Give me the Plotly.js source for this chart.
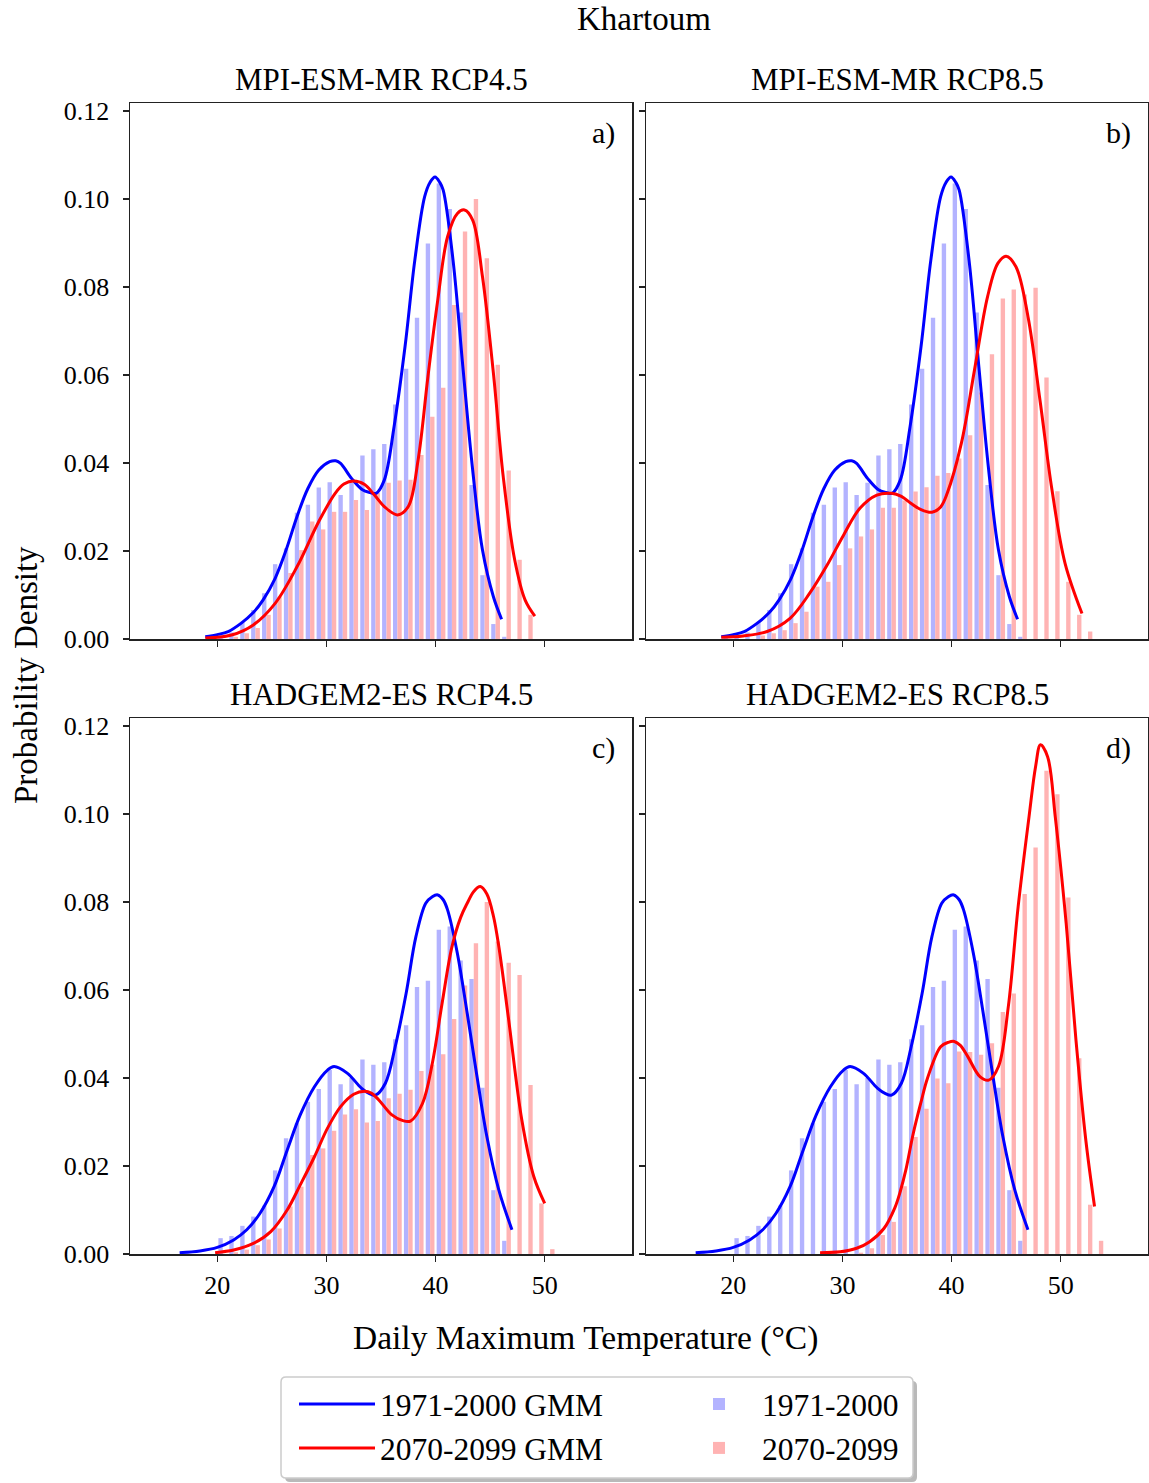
<!DOCTYPE html>
<html>
<head>
<meta charset="utf-8">
<script src="https://cdn.plot.ly/plotly-3.0.1.min.js"></script>
<style>
html,body{margin:0;padding:0;background:#ffffff;}
#chart{width:1149px;height:1483px;}
</style>
</head>
<body>
<div id="chart"></div>
<script>
// ---------------- DATA ----------------
// Histogram bin centres (1 degC bins) and densities
const mpiHistCenters = [19.5,20.5,21.5,22.5,23.5,24.5,25.5,26.5,27.5,28.5,29.5,30.5,31.5,32.5,33.5,34.5,35.5,36.5,37.5,38.5,39.5,40.5,41.5,42.5,43.5,44.5,45.5,46.5];
const mpiHistDensity = [0.0006,0.0009,0.0015,0.0039,0.0066,0.0104,0.0170,0.0206,0.0287,0.0305,0.0344,0.0356,0.0327,0.0355,0.0417,0.0431,0.0443,0.0533,0.0614,0.0730,0.0899,0.1035,0.0977,0.0742,0.0350,0.0145,0.0034,0.0005];

const mpi45Centers = [21.5,22.5,23.5,24.5,25.5,26.5,27.5,28.5,29.5,30.5,31.5,32.5,33.5,34.5,35.5,36.5,37.5,38.5,39.5,40.5,41.5,42.5,43.5,44.5,45.5,46.5,47.5,48.5];
const mpi45Density = [0.0005,0.0013,0.0025,0.0055,0.0096,0.0150,0.0202,0.0267,0.0249,0.0289,0.0289,0.0316,0.0293,0.0332,0.0355,0.0360,0.0362,0.0418,0.0505,0.0571,0.0759,0.0926,0.1000,0.0865,0.0623,0.0383,0.0180,0.0055];

const mpi85Centers = [22.5,23.5,24.5,25.5,26.5,27.5,28.5,29.5,30.5,31.5,32.5,33.5,34.5,35.5,36.5,37.5,38.5,39.5,40.5,41.5,42.5,43.5,44.5,45.5,46.5,47.5,48.5,49.5,50.5,51.5,52.5];
const mpi85Density = [0.0008,0.0013,0.0020,0.0036,0.0062,0.0119,0.0130,0.0168,0.0206,0.0233,0.0249,0.0298,0.0298,0.0315,0.0335,0.0345,0.0371,0.0377,0.0410,0.0463,0.0560,0.0647,0.0774,0.0794,0.0783,0.0798,0.0594,0.0336,0.0130,0.0055,0.0017];

const hadHistCenters = [20.5,21.5,22.5,23.5,24.5,25.5,26.5,27.5,28.5,29.5,30.5,31.5,32.5,33.5,34.5,35.5,36.5,37.5,38.5,39.5,40.5,41.5,42.5,43.5,44.5,45.5,46.5];
const hadHistDensity = [0.0036,0.0041,0.0064,0.0085,0.0110,0.0190,0.0263,0.0297,0.0346,0.0375,0.0418,0.0386,0.0400,0.0442,0.0430,0.0436,0.0488,0.0520,0.0607,0.0621,0.0737,0.0744,0.0667,0.0625,0.0378,0.0145,0.0030];

const had45Centers = [21.5,22.5,23.5,24.5,25.5,26.5,27.5,28.5,29.5,30.5,31.5,32.5,33.5,34.5,35.5,36.5,37.5,38.5,39.5,40.5,41.5,42.5,43.5,44.5,45.5,46.5,47.5,48.5,49.5,50.5];
const had45Density = [0.0004,0.0010,0.0020,0.0033,0.0058,0.0108,0.0153,0.0225,0.0240,0.0280,0.0317,0.0329,0.0299,0.0302,0.0354,0.0364,0.0373,0.0416,0.0430,0.0454,0.0534,0.0610,0.0706,0.0800,0.0710,0.0662,0.0634,0.0384,0.0115,0.0011];

const had85Centers = [31.5,32.5,33.5,34.5,35.5,36.5,37.5,38.5,39.5,40.5,41.5,42.5,43.5,44.5,45.5,46.5,47.5,48.5,49.5,50.5,51.5,52.5,53.5];
const had85Density = [0.0003,0.0013,0.0043,0.0073,0.0154,0.0266,0.0330,0.0399,0.0388,0.0460,0.0459,0.0453,0.0479,0.0550,0.0592,0.0818,0.0924,0.1098,0.1045,0.0810,0.0445,0.0112,0.0030];

// GMM curves
const mpiHistGmmX = [18.9,20.0,21.0,22.2,23.3,24.2,25.3,26.3,27.3,28.3,29.3,30.3,30.85,31.3,32.3,33.3,34.0,34.55,35.3,36.2,37.2,38.1,39.0,39.5,39.95,40.4,40.7,41.6,42.5,43.4,44.3,45.3,46.05];
const mpiHistGmmY = [0.0005,0.0010,0.0017,0.0036,0.0060,0.0089,0.0138,0.0202,0.0278,0.0342,0.0384,0.0403,0.0405,0.0399,0.0365,0.0339,0.0333,0.0331,0.0361,0.0483,0.0664,0.0861,0.1005,0.1038,0.1050,0.1037,0.1020,0.0861,0.0619,0.0384,0.0202,0.0096,0.0045];

const mpi45GmmX = [18.9,21.3,23.3,25.3,27.3,29.3,30.8,31.6,32.5,33.5,34.4,35.3,36.5,37.5,38.4,39.3,40.2,41.1,42.0,42.65,43.4,44.3,45.3,46.2,47.25,48.2,49.1];
const mpi45GmmY = [0.0002,0.0009,0.0032,0.0081,0.0164,0.0267,0.0331,0.0352,0.0359,0.0351,0.0327,0.0301,0.0282,0.0301,0.0407,0.0596,0.0770,0.0914,0.0967,0.0975,0.0952,0.0823,0.0604,0.0369,0.0180,0.0089,0.0052];

const mpi85GmmX = [18.9,20.9,23.1,25.2,27.0,28.6,30.1,31.6,33.15,34.5,35.4,36.3,37.2,38.2,39.0,39.6,40.9,42.1,43.3,44.25,45.0,45.9,47.0,48.1,49.2,50.4,51.95];
const mpi85GmmY = [0.0004,0.0007,0.0017,0.0047,0.0104,0.0168,0.0236,0.0297,0.0327,0.0331,0.0324,0.0308,0.0294,0.0288,0.0300,0.0331,0.0445,0.0611,0.0778,0.0854,0.0870,0.0846,0.0733,0.0543,0.0339,0.0172,0.0058];

const hadHistGmmX = [16.55,18.4,20.0,21.5,22.7,23.9,25.2,26.4,27.6,28.9,30.1,30.7,31.9,33.2,33.9,34.5,35.4,36.3,37.3,38.2,39.1,39.7,40.2,40.7,41.1,42.0,42.9,43.8,44.7,45.8,47.0];
const hadHistGmmY = [0.0003,0.0007,0.0015,0.0032,0.0055,0.0092,0.0153,0.0236,0.0316,0.0380,0.0418,0.0426,0.0411,0.0377,0.0365,0.0361,0.0388,0.0471,0.0592,0.0721,0.0797,0.0812,0.0816,0.0805,0.0782,0.0683,0.0547,0.0403,0.0267,0.0145,0.0055];

const had45GmmX = [19.8,21.5,23.3,24.9,26.4,27.6,28.9,30.1,31.3,32.5,33.5,34.1,34.8,36.0,37.0,37.7,38.8,39.7,40.6,41.5,42.3,42.9,43.5,44.1,44.7,45.3,45.8,46.7,47.9,49.0,50.0];
const had45GmmY = [0.0003,0.0009,0.0024,0.0051,0.0100,0.0157,0.0221,0.0286,0.0335,0.0363,0.0370,0.0366,0.0350,0.0316,0.0303,0.0302,0.0342,0.0433,0.0570,0.0698,0.0765,0.0797,0.0824,0.0835,0.0818,0.0768,0.0698,0.0532,0.0305,0.0176,0.0115];

const had85GmmX = [27.95,29.8,31.3,32.5,33.8,34.8,35.3,35.8,36.5,37.2,37.8,39.0,39.7,40.25,40.8,41.5,42.6,43.4,44.3,45.2,46.1,47.1,47.7,48.15,48.8,49.5,50.5,51.4,52.3,53.1];
const had85GmmY = [0.0003,0.0005,0.0013,0.0028,0.0058,0.0105,0.0142,0.0190,0.0275,0.0345,0.0400,0.0471,0.0481,0.0483,0.0474,0.0448,0.0403,0.0395,0.0426,0.0562,0.0789,0.0994,0.1108,0.1157,0.1130,0.0994,0.0752,0.0486,0.0259,0.0108];

const panelTitles = ["MPI-ESM-MR RCP4.5","MPI-ESM-MR RCP8.5","HADGEM2-ES RCP4.5","HADGEM2-ES RCP8.5"];
const panelLetters = ["a)","b)","c)","d)"];
const yTickVals = [0,0.02,0.04,0.06,0.08,0.10,0.12];
const xTickVals = [20,30,40,50];
const seriesNames = ["1971-2000 GMM","2070-2099 GMM","1971-2000","2070-2099"];
const mainTitle = "Khartoum";
const xLabel = "Daily Maximum Temperature (°C)";
const yLabel = "Probability Density";

// ---------------- STYLE / LAYOUT ----------------
const W = 1149, H = 1483;
const FONT = "Liberation Serif, Times New Roman, serif";
const BLUE = "#0000ff", RED = "#ff0000";
const BLUE_BAR = "rgb(179,179,255)", RED_BAR = "rgb(255,179,179)";
const fx = p => p / W;
const fy = p => 1 - p / H;

const panels = [
  {hx: mpiHistCenters, hy: mpiHistDensity, fx: mpi45Centers, fy: mpi45Density, gx: mpiHistGmmX, gy: mpiHistGmmY, rx: mpi45GmmX, ry: mpi45GmmY},
  {hx: mpiHistCenters, hy: mpiHistDensity, fx: mpi85Centers, fy: mpi85Density, gx: mpiHistGmmX, gy: mpiHistGmmY, rx: mpi85GmmX, ry: mpi85GmmY},
  {hx: hadHistCenters, hy: hadHistDensity, fx: had45Centers, fy: had45Density, gx: hadHistGmmX, gy: hadHistGmmY, rx: had45GmmX, ry: had45GmmY},
  {hx: hadHistCenters, hy: hadHistDensity, fx: had85Centers, fy: had85Density, gx: hadHistGmmX, gy: hadHistGmmY, rx: had85GmmX, ry: had85GmmY}
];

const traces = [];
panels.forEach((p, i) => {
  const xa = i === 0 ? "x" : "x" + (i + 1);
  const ya = i === 0 ? "y" : "y" + (i + 1);
  const first = i === 0;
  traces.push({type: "bar", x: p.hx, y: p.hy, xaxis: xa, yaxis: ya, width: 0.4, offset: -0.4,
    marker: {color: BLUE_BAR, line: {width: 0}}, name: seriesNames[2], legend: "legend2", showlegend: first, hoverinfo: "x+y"});
  traces.push({type: "bar", x: p.fx, y: p.fy, xaxis: xa, yaxis: ya, width: 0.4, offset: 0,
    marker: {color: RED_BAR, line: {width: 0}}, name: seriesNames[3], legend: "legend2", showlegend: first, hoverinfo: "x+y"});
  traces.push({type: "scatter", mode: "lines", x: p.gx, y: p.gy, xaxis: xa, yaxis: ya,
    line: {color: BLUE, width: 3, shape: "spline", smoothing: 1}, name: seriesNames[0], legend: "legend", showlegend: first});
  traces.push({type: "scatter", mode: "lines", x: p.rx, y: p.ry, xaxis: xa, yaxis: ya,
    line: {color: RED, width: 3, shape: "spline", smoothing: 1}, name: seriesNames[1], legend: "legend", showlegend: first});
});

const boxes = [
  {x0: 130, x1: 632, y0: 103, y1: 639},
  {x0: 646, x1: 1148, y0: 103, y1: 639},
  {x0: 130, x1: 632, y0: 718, y1: 1254},
  {x0: 646, x1: 1148, y0: 718, y1: 1254}
];

const tickFont = {family: FONT, size: 26, color: "#000"};
const legendFont = {family: FONT, size: 31.5, color: "#000"};
const layout = {
  width: W, height: H,
  margin: {l: 0, r: 0, t: 0, b: 0},
  paper_bgcolor: "#ffffff", plot_bgcolor: "#ffffff",
  font: {family: FONT, color: "#000"},
  barmode: "overlay",
  showlegend: true,
  legend: {x: fx(294), y: fy(1377), xanchor: "left", yanchor: "top", bgcolor: "rgba(0,0,0,0)", borderwidth: 0,
    font: legendFont, itemwidth: 76, tracegroupgap: 0, traceorder: "normal"},
  legend2: {x: fx(676), y: fy(1377), xanchor: "left", yanchor: "top", bgcolor: "rgba(0,0,0,0)", borderwidth: 0,
    font: legendFont, itemwidth: 76, tracegroupgap: 0, traceorder: "normal"},
  annotations: [],
  shapes: []
};

boxes.forEach((b, i) => {
  const k = i === 0 ? "" : String(i + 1);
  const bottomRow = i >= 2;
  const leftCol = i % 2 === 0;
  layout["xaxis" + k] = {
    domain: [fx(b.x0), fx(b.x1)], anchor: "y" + k, range: [12, 58],
    tickmode: "array", tickvals: xTickVals, ticktext: xTickVals.map(String),
    showticklabels: bottomRow, ticks: "outside", ticklen: 6, tickwidth: 1.5, tickcolor: "#222",
    showline: true, mirror: true, linecolor: "#222", linewidth: 1.5,
    showgrid: false, zeroline: false, tickfont: tickFont, ticklabelstandoff: 1
  };
  layout["yaxis" + k] = {
    domain: [fy(b.y1), fy(b.y0)], anchor: "x" + k, range: [0, 0.1218],
    tickmode: "array", tickvals: yTickVals, tickformat: ".2f",
    showticklabels: leftCol, ticks: "outside", ticklen: 6, tickwidth: 1.5, tickcolor: "#222",
    showline: true, mirror: true, linecolor: "#222", linewidth: 1.5,
    showgrid: false, zeroline: false, tickfont: tickFont, ticklabelstandoff: 8
  };
  layout.annotations.push({text: panelTitles[i], xref: "paper", yref: "paper", x: fx((b.x0 + b.x1) / 2), y: fy(b.y0 - 23),
    xanchor: "center", yanchor: "middle", showarrow: false, font: {family: FONT, size: 31, color: "#000"}});
  layout.annotations.push({text: panelLetters[i], xref: "paper", yref: "paper", x: fx(b.x1 - 15), y: fy(b.y0 + 30),
    xanchor: "right", yanchor: "middle", showarrow: false, font: {family: FONT, size: 30, color: "#000"}});
});

layout.annotations.push({text: mainTitle, xref: "paper", yref: "paper", x: fx(644), y: fy(19), xanchor: "center", yanchor: "middle",
  showarrow: false, font: {family: FONT, size: 33, color: "#000"}});
layout.annotations.push({text: xLabel, xref: "paper", yref: "paper", x: fx(585), y: fy(1338), xanchor: "center", yanchor: "middle",
  showarrow: false, font: {family: FONT, size: 33.5, color: "#000"}});
layout.annotations.push({text: yLabel, xref: "paper", yref: "paper", x: fx(26), y: fy(675), xanchor: "center", yanchor: "middle",
  textangle: -90, showarrow: false, font: {family: FONT, size: 33, color: "#000"}});

// legend frame (rounded box with shadow)
function roundRect(x0, y0, x1, y1, r) {
  const X = v => fx(v), Y = v => fy(v);
  return "M" + X(x0 + r) + "," + Y(y0) + " L" + X(x1 - r) + "," + Y(y0) +
    " Q" + X(x1) + "," + Y(y0) + " " + X(x1) + "," + Y(y0 + r) +
    " L" + X(x1) + "," + Y(y1 - r) + " Q" + X(x1) + "," + Y(y1) + " " + X(x1 - r) + "," + Y(y1) +
    " L" + X(x0 + r) + "," + Y(y1) + " Q" + X(x0) + "," + Y(y1) + " " + X(x0) + "," + Y(y1 - r) +
    " L" + X(x0) + "," + Y(y0 + r) + " Q" + X(x0) + "," + Y(y0) + " " + X(x0 + r) + "," + Y(y0) + " Z";
}
layout.shapes.push({type: "path", xref: "paper", yref: "paper", path: roundRect(285, 1381, 917, 1482, 5),
  fillcolor: "rgba(128,128,128,0.55)", line: {width: 0}, layer: "below"});
layout.shapes.push({type: "path", xref: "paper", yref: "paper", path: roundRect(281, 1377, 913, 1478, 5),
  fillcolor: "#ffffff", line: {color: "#cccccc", width: 1.5}, layer: "below"});

Plotly.newPlot("chart", traces, layout, {displayModeBar: false, staticPlot: true});
</script>
</body>
</html>
